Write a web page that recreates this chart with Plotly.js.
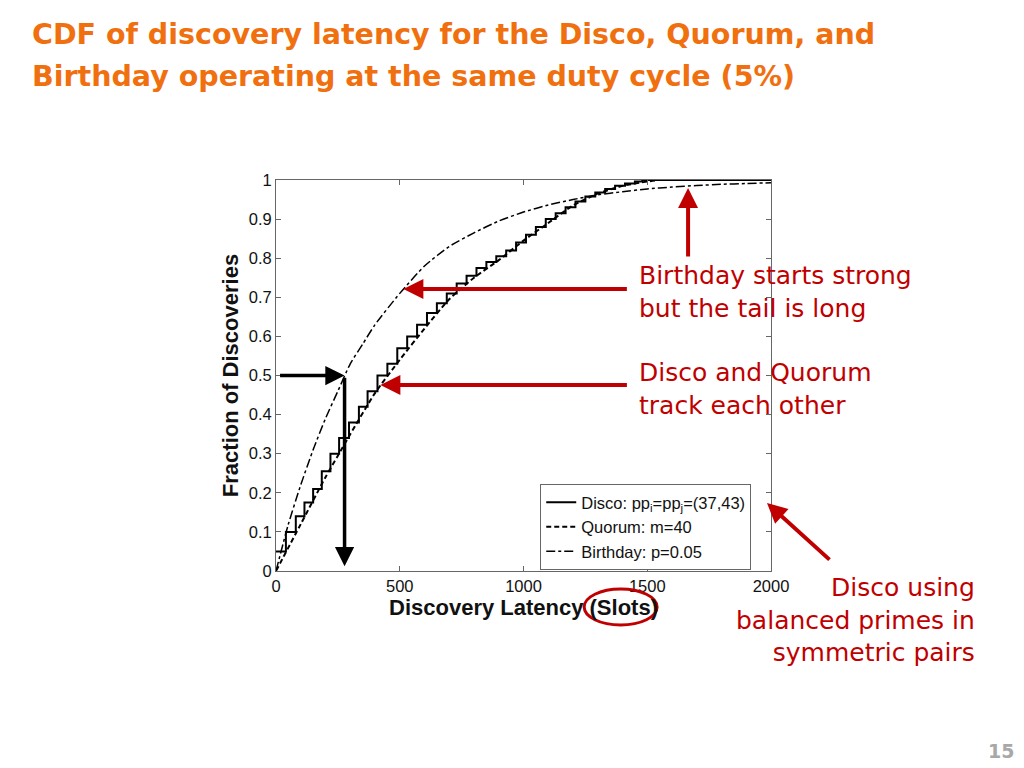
<!DOCTYPE html>
<html>
<head>
<meta charset="utf-8">
<script src="https://cdn.plot.ly/plotly-3.0.1.min.js"></script>
<style>
html,body{margin:0;padding:0;background:#fff;}
#chart{width:1024px;height:768px;}
</style>
</head>
<body>
<div id="chart"></div>
<script>
// ---- Data ----
const birthdayX = [0, 50, 100, 150, 200, 250, 300, 350, 400, 500, 600, 700, 800, 900, 1000, 1100, 1200, 1300, 1400, 1500, 1600, 1700, 1800, 1900, 2000];
const birthdayY = [0, 0.12, 0.22, 0.31, 0.39, 0.46, 0.53, 0.58, 0.63, 0.71, 0.78, 0.83, 0.865, 0.895, 0.918, 0.936, 0.95, 0.962, 0.97, 0.977, 0.982, 0.986, 0.989, 0.991, 0.993];

const quorumX = [0, 100, 200, 250, 300, 400, 500, 600, 700, 800, 900, 1000, 1100, 1200, 1300, 1400, 1500, 1550, 2000];
const quorumY = [0, 0.12, 0.24, 0.295, 0.35, 0.455, 0.54, 0.62, 0.695, 0.75, 0.795, 0.845, 0.89, 0.935, 0.965, 0.985, 0.996, 1.0, 1.0];

const discoX = [0, 40, 80, 115, 150, 185, 220, 255, 295, 335, 370, 410, 450, 490, 530, 570, 610, 650, 690, 730, 770, 810, 850, 890, 930, 970, 1010, 1050, 1090, 1130, 1170, 1210, 1250, 1290, 1330, 1370, 1410, 1450, 1480, 2000];
const discoY = [0.05, 0.10, 0.14, 0.175, 0.21, 0.255, 0.30, 0.34, 0.38, 0.42, 0.46, 0.50, 0.53, 0.57, 0.60, 0.63, 0.66, 0.685, 0.71, 0.735, 0.755, 0.775, 0.79, 0.805, 0.82, 0.84, 0.86, 0.88, 0.90, 0.915, 0.93, 0.945, 0.958, 0.968, 0.977, 0.985, 0.991, 0.996, 1.0, 1.0];

const seriesNames = ["Disco: pp<sub>i</sub>=pp<sub>j</sub>=(37,43)", "Quorum: m=40", "Birthday: p=0.05"];
const xTicks = [0, 500, 1000, 1500, 2000];
const yTicks = [0, 0.1, 0.2, 0.3, 0.4, 0.5, 0.6, 0.7, 0.8, 0.9, 1];
const yTickText = ["0", "0.1", "0.2", "0.3", "0.4", "0.5", "0.6", "0.7", "0.8", "0.9", "1"];

const titleLines = ["CDF of discovery latency for the Disco, Quorum, and", "Birthday operating at the same duty cycle (5%)"];
const note1 = "Birthday starts strong<br>but the tail is long";
const note2 = "Disco and Quorum<br>track each other";
const note3 = "Disco using<br>balanced primes in<br>symmetric pairs";
const pageNum = "15";

// ---- Layout geometry ----
const L = 275.5, R = 771, T = 180, B = 571;
const W = 1024, H = 768;
const px2x = p => (p - L) / (R - L);
const py2y = p => (B - p) / (B - T);

const RED = "#C00000";
const noteFont = {family: "DejaVu Sans, Noto Sans, sans-serif", size: 25, color: RED};
const titleFont = {family: "DejaVu Sans, Noto Sans, sans-serif", size: 28.5, color: "#F07010", weight: "bold"};
const axFont = "Liberation Sans, Arial, sans-serif";

const traces = [
  {x: discoX, y: discoY, name: seriesNames[0], mode: "lines", line: {color: "#000", width: 2, shape: "hv"}},
  {x: quorumX, y: quorumY, name: seriesNames[1], mode: "lines", line: {color: "#000", width: 2, dash: "5px,3px", shape: "spline", smoothing: 0.6}},
  {x: birthdayX, y: birthdayY, name: seriesNames[2], mode: "lines", line: {color: "#000", width: 1.5, dash: "dashdot", shape: "spline", smoothing: 0.6}}
];

const axisCommon = {
  showline: true, linecolor: "#666", linewidth: 1, mirror: "ticks",
  ticks: "inside", ticklen: 5, tickcolor: "#666",
  showgrid: false, zeroline: false,
  tickfont: {family: axFont, size: 16.5, color: "#111"}
};

const layout = {
  width: W, height: H,
  paper_bgcolor: "#fff", plot_bgcolor: "#fff",
  margin: {l: L, r: W - R, t: T, b: H - B},
  showlegend: true,
  xaxis: Object.assign({}, axisCommon, {
    range: [0, 2000], tickvals: xTicks, ticktext: xTicks.map(String),
    title: {text: "<b>Discovery Latency (Slots)</b>", standoff: 1,
      font: {family: axFont, size: 22, color: "#111"}}
  }),
  yaxis: Object.assign({}, axisCommon, {
    range: [0, 1], tickvals: yTicks, ticktext: yTickText,
    title: {text: "<b>Fraction of Discoveries</b>", standoff: 4,
      font: {family: axFont, size: 22, color: "#111"}}
  }),
  legend: {
    x: px2x(540), y: py2y(484), xanchor: "left", yanchor: "top",
    bgcolor: "#fff", bordercolor: "#666", borderwidth: 1,
    font: {family: axFont, size: 16.5, color: "#111"},
    tracegroupgap: 0, itemwidth: 30
  },
  shapes: [
    {type: "circle", xref: "paper", yref: "paper",
     x0: px2x(584), x1: px2x(657), y0: py2y(625), y1: py2y(589),
     line: {color: RED, width: 3}}
  ],
  annotations: [
    // title
    {x: px2x(29), y: py2y(35), xref: "paper", yref: "paper", xanchor: "left", yanchor: "middle",
     showarrow: false, text: titleLines[0], font: titleFont},
    {x: px2x(29), y: py2y(76), xref: "paper", yref: "paper", xanchor: "left", yanchor: "middle",
     showarrow: false, text: titleLines[1], font: titleFont},
    // black arrows
    {x: 277, y: 0.5, xref: "x", yref: "y", ax: -66, ay: 0, axref: "pixel", ayref: "pixel",
     showarrow: true, arrowhead: 2, arrowsize: 1.1, arrowwidth: 3.5, arrowcolor: "#000", text: ""},
    {x: 277, y: 0.012, xref: "x", yref: "y", ax: 0, ay: -190, axref: "pixel", ayref: "pixel",
     showarrow: true, arrowhead: 2, arrowsize: 1.1, arrowwidth: 3.5, arrowcolor: "#000", text: ""},
    // red arrows
    {x: px2x(403), y: py2y(289), xref: "paper", yref: "paper", ax: 225, ay: 0,
     showarrow: true, arrowhead: 2, arrowsize: 1, arrowwidth: 4, arrowcolor: RED, text: ""},
    {x: px2x(380), y: py2y(385), xref: "paper", yref: "paper", ax: 248, ay: 0,
     showarrow: true, arrowhead: 2, arrowsize: 1, arrowwidth: 4, arrowcolor: RED, text: ""},
    {x: px2x(688), y: py2y(188), xref: "paper", yref: "paper", ax: 0, ay: 70,
     showarrow: true, arrowhead: 2, arrowsize: 1, arrowwidth: 4, arrowcolor: RED, text: ""},
    {x: px2x(767), y: py2y(503), xref: "paper", yref: "paper", ax: 64, ay: 58,
     showarrow: true, arrowhead: 2, arrowsize: 1, arrowwidth: 4, arrowcolor: RED, text: ""},
    // red notes
    {x: px2x(637), y: py2y(259), xref: "paper", yref: "paper", xanchor: "left", yanchor: "top",
     align: "left", showarrow: false, text: note1, font: noteFont},
    {x: px2x(637), y: py2y(356), xref: "paper", yref: "paper", xanchor: "left", yanchor: "top",
     align: "left", showarrow: false, text: note2, font: noteFont},
    {x: px2x(977), y: py2y(571), xref: "paper", yref: "paper", xanchor: "right", yanchor: "top",
     align: "right", showarrow: false, text: note3, font: noteFont},
    // page number
    {x: px2x(1016), y: py2y(751), xref: "paper", yref: "paper", xanchor: "right", yanchor: "middle",
     showarrow: false, text: "<b>" + pageNum + "</b>",
     font: {family: "DejaVu Sans, sans-serif", size: 19, color: "#A8A8A8"}}
  ]
};

Plotly.newPlot("chart", traces, layout, {displayModeBar: false, staticPlot: true});
</script>
</body>
</html>
